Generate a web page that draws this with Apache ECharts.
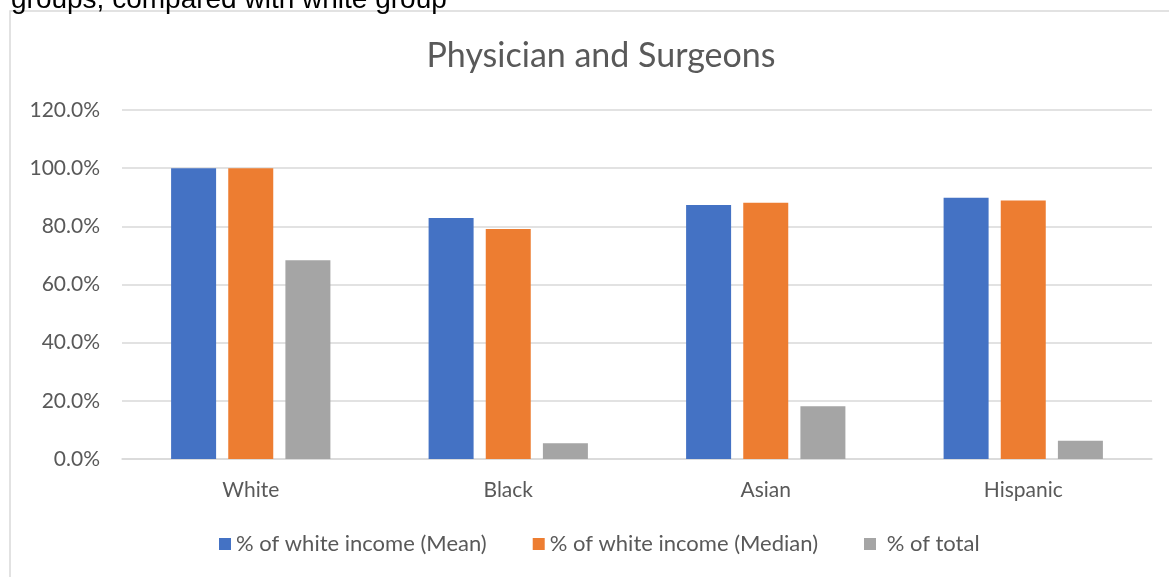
<!DOCTYPE html>
<html>
<head>
<meta charset="utf-8">
<script src="https://cdn.jsdelivr.net/npm/echarts@6/dist/echarts.min.js"></script>
<style>html,body{margin:0;padding:0;background:#fff;}#c{width:1169px;height:577px;}</style>
</head>
<body>
<div id="c"></div>
<script>
const categories = ['White', 'Black', 'Asian', 'Hispanic'];
const meanPct = [100.0, 82.9, 87.3, 89.8];
const medianPct = [100.0, 79.1, 88.1, 88.9];
const totalPct = [68.3, 5.4, 18.1, 6.3];
const seriesNames = ['% of white income (Mean)', '% of white income (Median)', ' % of total'];
const yTicks = [0, 20, 40, 60, 80, 100, 120];

const FONT = 'Lato';
const chart = echarts.init(document.getElementById('c'), null, {renderer: 'canvas'});
chart.setOption({
  animation: false,
  backgroundColor: '#fff',
  textStyle: {fontFamily: FONT},
  graphic: [
    {type: 'rect', shape: {x: 10, y: 11, width: 1200, height: 620}, style: {fill: 'none', stroke: '#d9d9d9', lineWidth: 1.5}, z: 0},
    {type: 'text', x: 11, y: 14, style: {text: 'groups, compared with white group', font: '28px "Liberation Sans"', fill: '#000', verticalAlign: 'bottom'}}
  ],
  title: {
    text: 'Physician and Surgeons',
    left: 596, textAlign: 'center', top: 34,
    textStyle: {fontFamily: FONT, fontSize: 34, fontWeight: 'normal', color: '#595959'}
  },
  legend: {
    top: 528, left: 214,
    itemWidth: 12, itemHeight: 12, itemGap: 46,
    icon: 'rect',
    textStyle: {fontFamily: FONT, fontSize: 22, color: '#595959'},
    data: seriesNames
  },
  grid: {left: 122, right: 17, top: 110, bottom: 118},
  xAxis: {
    type: 'category', data: categories,
    axisLine: {lineStyle: {color: '#d9d9d9', width: 1.5}},
    axisTick: {show: false},
    axisLabel: {color: '#595959', fontSize: 21, margin: 21, fontFamily: FONT}
  },
  yAxis: {
    type: 'value', min: 0, max: 120, interval: 20,
    axisLine: {show: false}, axisTick: {show: false},
    splitLine: {lineStyle: {color: '#d9d9d9', width: 1.5}},
    axisLabel: {color: '#595959', fontSize: 21, margin: 22, fontFamily: FONT,
      formatter: v => yTicks.includes(v) ? v.toFixed(1) + '%' : ''}
  },
  series: [
    {name: seriesNames[0], type: 'bar', data: meanPct, barWidth: 45, barGap: '27%', itemStyle: {color: '#4472c4'}},
    {name: seriesNames[1], type: 'bar', data: medianPct, barWidth: 45, barGap: '27%', itemStyle: {color: '#ed7d31'}},
    {name: seriesNames[2], type: 'bar', data: totalPct, barWidth: 45, barGap: '27%', itemStyle: {color: '#a5a5a5'}}
  ]
});
</script>
</body>
</html>
